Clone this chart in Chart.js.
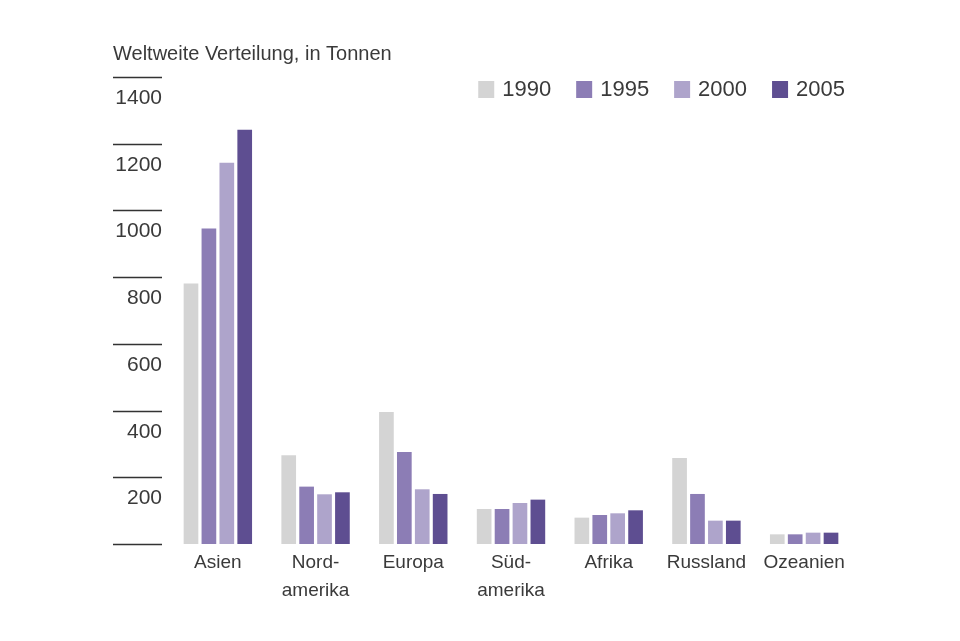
<!DOCTYPE html>
<html>
<head>
<meta charset="utf-8">
<script src="https://cdn.jsdelivr.net/npm/chart.js@4"></script>
<style>
  body { margin: 0; background: #fff; }
  #wrap { width: 960px; height: 641px; position: relative; }
</style>
</head>
<body>
<div id="wrap"><canvas id="chart"></canvas></div>
<script>
var regions = [["Asien"], ["Nord-", "amerika"], ["Europa"], ["Süd-", "amerika"], ["Afrika"], ["Russland"], ["Ozeanien"]];
var years = ["1990", "1995", "2000", "2005"];
var values1990 = [781, 266, 396, 105, 79, 258, 29];
var values1995 = [946, 172, 276, 105, 87, 150, 29];
var values2000 = [1143, 149, 164, 123, 92, 70, 34];
var values2005 = [1242, 155, 150, 133, 101, 70, 34];
var yTicks = [0, 200, 400, 600, 800, 1000, 1200, 1400];
var titleText = "Weltweite Verteilung, in Tonnen";

var colors = ["#d4d4d4", "#8c7db5", "#aea4cb", "#5e4e91"];
var textColor = "#3a3a3a";
var fontFamily = "'Liberation Sans', Arial, sans-serif";

// title, short tick lines on the left and the legend
var decorPlugin = {
  id: "decor",
  afterDraw: function(chart) {
    var ctx = chart.ctx;
    var area = chart.chartArea;
    var yScale = chart.scales.y;
    ctx.save();

    ctx.fillStyle = textColor;
    ctx.font = "20px " + fontFamily;
    ctx.textAlign = "left";
    ctx.textBaseline = "alphabetic";
    ctx.fillText(titleText, area.left - 56, 60);

    ctx.strokeStyle = "#333";
    ctx.lineWidth = 1.5;
    ctx.font = "21px " + fontFamily;
    ctx.textAlign = "right";
    for (var i = 0; i < yTicks.length; i++) {
      var y = Math.round(yScale.getPixelForValue(yTicks[i])) + 0.5;
      ctx.beginPath();
      ctx.moveTo(area.left - 56, y);
      ctx.lineTo(area.left - 7, y);
      ctx.stroke();
      if (yTicks[i] !== 0) {
        ctx.fillText(String(yTicks[i]), area.left - 7, y + 26);
      }
    }

    // legend, right aligned
    ctx.font = "22px " + fontFamily;
    ctx.textAlign = "left";
    var datasets = chart.data.datasets;
    var widths = [];
    var total = 0;
    for (var j = 0; j < datasets.length; j++) {
      var w = 16 + 8 + ctx.measureText(datasets[j].label).width;
      widths.push(w);
      total += w + (j < datasets.length - 1 ? 25 : 0);
    }
    var x = area.right - 8 - total;
    for (var k = 0; k < datasets.length; k++) {
      ctx.fillStyle = datasets[k].backgroundColor;
      ctx.fillRect(x, 81, 16, 17);
      ctx.fillStyle = textColor;
      ctx.fillText(datasets[k].label, x + 24, 96);
      x += widths[k] + 25;
    }
    ctx.restore();
  }
};

function makeDatasets() {
  var series = [values1990, values1995, values2000, values2005];
  var list = [];
  for (var i = 0; i < years.length; i++) {
    list.push({
      label: years[i],
      data: series[i],
      backgroundColor: colors[i],
      borderWidth: 0,
      categoryPercentage: 0.733,
      barPercentage: 0.82
    });
  }
  return list;
}

new Chart(document.getElementById("chart").getContext("2d"), {
  type: "bar",
  data: {
    labels: regions,
    datasets: makeDatasets()
  },
  options: {
    responsive: true,
    maintainAspectRatio: false,
    animation: false,
    layout: {
      padding: { left: 169, right: 107, top: 77, bottom: 37 }
    },
    plugins: {
      legend: { display: false },
      tooltip: { enabled: false }
    },
    scales: {
      x: {
        grid: { display: false, drawTicks: false },
        border: { display: false },
        ticks: {
          color: textColor,
          font: { family: fontFamily, size: 19, lineHeight: 1.45 },
          padding: 5,
          maxRotation: 0,
          autoSkip: false
        },
        afterFit: function(scale) { scale.height = 60; }
      },
      y: {
        display: false,
        min: 0,
        max: 1400
      }
    }
  },
  plugins: [decorPlugin]
});
</script>
</body>
</html>
